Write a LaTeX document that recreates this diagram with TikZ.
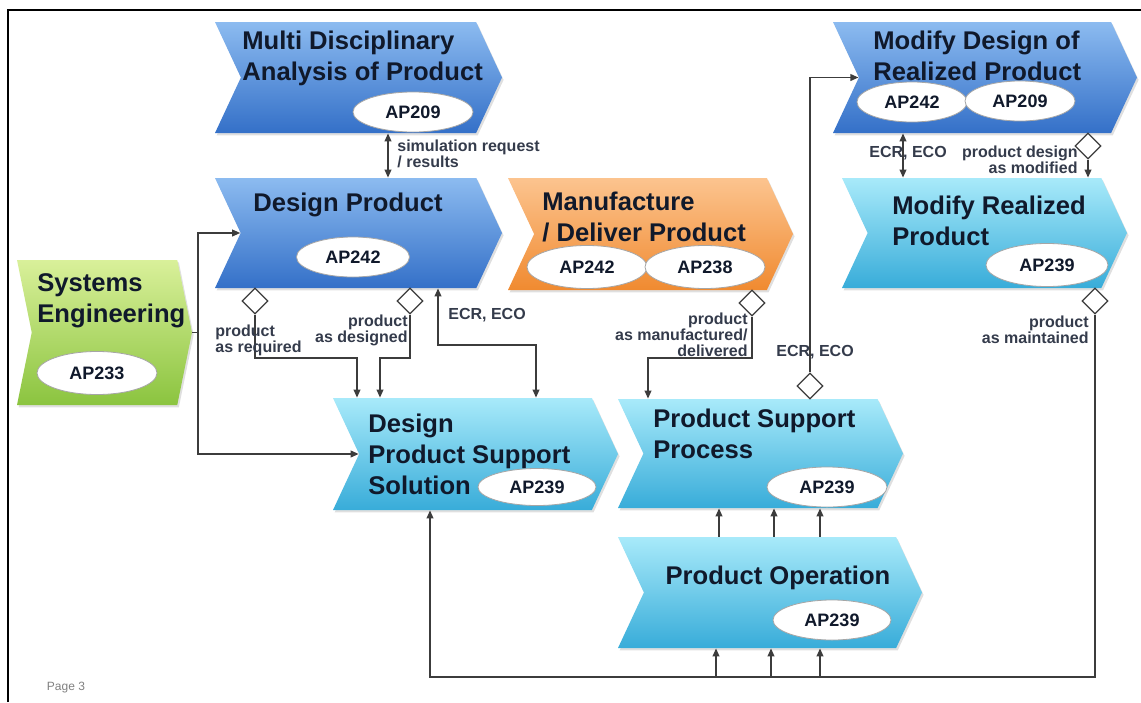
\documentclass[tikz,border=0pt]{standalone}
\usepackage{fontspec}
\setmainfont{Liberation Sans}
\usetikzlibrary{shapes.symbols,shapes.geometric,arrows.meta,shadows}
\definecolor{bluetop}{HTML}{8CBBF0}
\definecolor{bluebot}{HTML}{3470C8}
\definecolor{cyantop}{HTML}{A8EAFA}
\definecolor{cyanbot}{HTML}{38ACD9}
\definecolor{orangetop}{HTML}{FCC48F}
\definecolor{orangebot}{HTML}{F08A30}
\definecolor{greentop}{HTML}{D9F09A}
\definecolor{greenbot}{HTML}{8BC43F}
\definecolor{txtc}{HTML}{10192B}
\definecolor{linec}{HTML}{3C3C3C}
\begin{document}
\begin{tikzpicture}[x=0.5pt,y=-0.5pt,>={Triangle[length=4pt,width=3.4pt]},
  proc/.style={signal,signal to=east,signal from=west,signal pointer angle=130,inner sep=0,
    minimum width=142.5pt,minimum height=55.5pt,
    drop shadow={opacity=0.25,shadow xshift=0.8pt,shadow yshift=-1.2pt}},
  blue proc/.style={proc,top color=bluetop,bottom color=bluebot},
  cyan proc/.style={proc,top color=cyantop,bottom color=cyanbot},
  title/.style={font=\fontsize{12.8}{15.5}\selectfont\bfseries,text=txtc,align=left,inner sep=0},
  ap/.style={ellipse,draw=gray!70,fill=white,minimum width=60pt,minimum height=20pt,inner sep=0,
    font=\fontsize{9}{10}\selectfont\bfseries,text=txtc},
  lab/.style={font=\fontsize{8}{8}\selectfont\bfseries,text=txtc!85,inner sep=0},
  dmd/.style={diamond,draw=linec,fill=white,minimum width=13pt,minimum height=13pt,inner sep=0,line width=0.6pt},
  conn/.style={draw=linec,line width=0.65pt}]
  \useasboundingbox (0,0) rectangle (1141,702);
  \draw[line width=1.1pt] (8,702) -- (8,10) -- (1141,10);

  \node[blue proc,minimum width=143.5pt] (mda) at (358.5,77.5) {};
  \node[blue proc,minimum width=143.5pt,minimum height=55pt] (dp) at (358.5,233) {};
  \node[proc,top color=orangetop,bottom color=orangebot,minimum height=56pt] (mfg) at (650.5,234) {};
  \node[blue proc,minimum width=152pt] (mdr) at (985,77.5) {};
  \node[cyan proc,minimum height=55pt] (mrp) at (984.5,233) {};
  \node[cyan proc,minimum height=56pt] (dpss) at (475.5,454) {};
  \node[cyan proc,minimum height=54.5pt] (psp) at (760.5,453.5) {};
  \node[cyan proc,minimum width=152pt] (po) at (770,592.5) {};
  \node[proc,top color=greentop,bottom color=greenbot,signal pointer angle=157,
    minimum width=87.5pt,minimum height=72.5pt] (se) at (104.5,332.5) {};

  \node[title,anchor=west] (mda-t) at (242,58) {Multi Disciplinary\\Analysis of Product};
  \node[title] (dp-t) at (348,205) {Design Product};
  \node[title,anchor=west] (mfg-t) at (542,217) {Manufacture\\/ Deliver Product};
  \node[title,anchor=west] (mdr-t) at (873,56) {Modify Design of\\Realized Product};
  \node[title,anchor=west] (mrp-t) at (892,221) {Modify Realized\\Product};
  \node[title,anchor=west] (dpss-t) at (368,454) {Design\\Product Support\\Solution};
  \node[title,anchor=west] (psp-t) at (653,434) {Product Support\\Process};
  \node[title] (po-t) at (778,578) {Product Operation};
  \node[title,anchor=west] (se-t) at (37,301) {Systems\\Engineering};

  \node[ap] (mda-ap) at (413,112) {AP209};
  \node[ap,minimum width=56.5pt] (dp-ap) at (353,257) {AP242};
  \node[ap,minimum height=21.5pt] (mfg-ap1) at (587,267) {AP242};
  \node[ap,minimum height=21.5pt] (mfg-ap2) at (705,267) {AP238};
  \node[ap,minimum width=55pt] (mdr-ap1) at (912,102) {AP242};
  \node[ap,minimum width=55pt] (mdr-ap2) at (1020,101) {AP209};
  \node[ap,minimum width=61pt,minimum height=21.5pt] (mrp-ap) at (1047,265) {AP239};
  \node[ap,minimum width=59pt,minimum height=18.5pt] (dpss-ap) at (537,487) {AP239};
  \node[ap] (psp-ap) at (827,487) {AP239};
  \node[ap,minimum width=59pt] (po-ap) at (832,620) {AP239};
  \node[ap,minimum height=21.5pt] (se-ap) at (97,373) {AP233};

  \node[dmd] (d1) at (255,301) {};
  \node[dmd] (d2) at (410,301) {};
  \node[dmd] (d3) at (752,303) {};
  \node[dmd] (d4) at (1088,146) {};
  \node[dmd] (d5) at (1095,301) {};
  \node[dmd] (d6) at (810,386) {};

  \coordinate (se-j) at (198,0 |- se.east);
  \draw[conn,<->] (388,0 |- mda.south) -- (388,0 |- dp.north);
  \draw[conn] (se.east) -- (se-j);
  \draw[conn,->] (se-j) |- (dp.west);
  \draw[conn,->] (se-j) |- (dpss.west);
  \draw[conn,->] (d1.south) |- (357,358) -- (357,0 |- dpss.north);
  \draw[conn,->] (d2.south) |- (380,358) -- (380,0 |- dpss.north);
  \draw[conn,<->] (438,0 |- dp.south) |- (536,345) -- (536,0 |- dpss.north);
  \draw[conn,->] (d3.south) |- (648,358) -- (648,0 |- psp.north);
  \draw[conn,->] (d6.north) |- (mdr.west);
  \draw[conn,<->] (903,0 |- mdr.south) -- (903,0 |- mrp.north);
  \draw[conn,->] (d4.south) -- (d4.south |- mrp.north);
  \draw[conn,->] (d5.south) |- (430,677) -- (430,0 |- dpss.south);
  \foreach \x in {716,771,820}
    \draw[conn,->] (\x,677) -- (\x,0 |- po.south);
  \foreach \x in {719,774,820}
    \draw[conn,->] (\x,0 |- po.north) -- (\x,0 |- psp.south);

  \node[lab,anchor=west,align=left] (sim-l) at (397,154) {simulation request\\/ results};
  \node[lab,anchor=west] (ecr1-l) at (448,315) {ECR, ECO};
  \node[lab,anchor=west,align=left] (req-l) at (215,340) {product\\as required};
  \node[lab,anchor=east,align=right] (des-l) at (408,330) {product\\as designed};
  \node[lab,anchor=east,align=right] (mfd-l) at (748,335) {product\\as manufactured/\\delivered};
  \node[lab,anchor=west] (ecr2-l) at (776,352) {ECR, ECO};
  \node[lab,anchor=west] (ecr3-l) at (869,153) {ECR, ECO};
  \node[lab,anchor=east,align=right] (mod-l) at (1078,160) {product design\\as modified};
  \node[lab,anchor=east,align=right] (mnt-l) at (1089,330) {product\\as maintained};
  \node[font=\fontsize{6}{6}\selectfont,text=gray] (pg) at (66,688) {Page 3};
\end{tikzpicture}
\end{document}
